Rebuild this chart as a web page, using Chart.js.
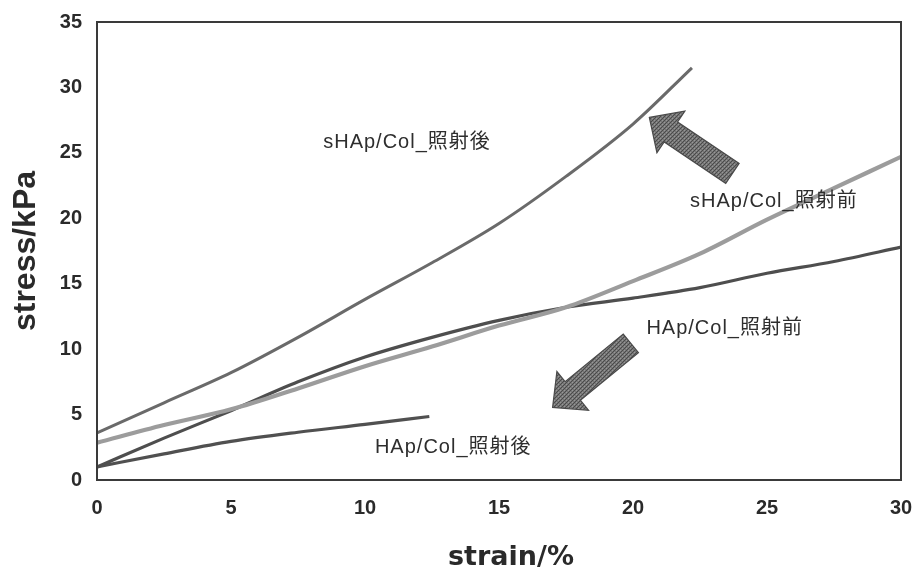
<!DOCTYPE html>
<html>
<head>
<meta charset="utf-8">
<script src="https://cdn.jsdelivr.net/npm/chart.js@4.4.1/dist/chart.umd.min.js"></script>
<style>
  html, body { margin: 0; padding: 0; background: #ffffff; }
  #wrap { width: 918px; height: 567px; position: relative; }
</style>
</head>
<body>
<div id="wrap"><canvas id="c" width="918" height="567"></canvas></div>
<script>
// Stress–strain curves (strain in %, stress in kPa)
const sHApAfterStrain  = [0, 2.5, 5, 7.5, 10, 12.5, 15, 17.5, 20, 22.2];
const sHApAfterStress  = [3.6, 5.9, 8.2, 10.9, 13.8, 16.6, 19.6, 23.2, 27.2, 31.5];

const sHApBeforeStrain = [0, 2.5, 5, 7.5, 10, 12.5, 15, 17.5, 20, 22.5, 25, 27.5, 30];
const sHApBeforeStress = [2.85, 4.2, 5.4, 7.0, 8.7, 10.2, 11.8, 13.2, 15.2, 17.3, 19.9, 22.3, 24.7];

const HApBeforeStrain  = [0, 2.5, 5, 7.5, 10, 12.5, 15, 17.5, 20, 22.5, 25, 27.5, 30];
const HApBeforeStress  = [1.0, 3.2, 5.3, 7.5, 9.4, 10.9, 12.2, 13.2, 13.9, 14.7, 15.8, 16.7, 17.8];

const HApAfterStrain   = [0, 2.5, 5, 7.5, 10, 12.4];
const HApAfterStress   = [1.0, 2.0, 2.95, 3.65, 4.25, 4.85];

// Axis ticks
const xTicks = [0, 5, 10, 15, 20, 25, 30];
const yTicks = [0, 5, 10, 15, 20, 25, 30, 35];
const xTitle = 'strain/%';
const yTitle = 'stress/kPa';

// Curve labels, anchored at their left edge / vertical middle (data units)
const labelTexts = ['sHAp/Col_照射後', 'sHAp/Col_照射前', 'HAp/Col_照射前', 'HAp/Col_照射後'];
const labelX     = [8.44, 22.13, 20.5, 10.37];
const labelY     = [25.8, 21.26, 11.6, 2.45];

// Block arrows: tip and tail (data units)
const arrowTipX  = [20.61, 17.0];
const arrowTipY  = [27.71, 5.55];
const arrowTailX = [23.71, 19.92];
const arrowTailY = [23.43, 10.44];

function pts(xs, ys) { return xs.map((x, i) => ({ x: x, y: ys[i] })); }

function hatchPattern(ctx) {
  const p = document.createElement('canvas');
  p.width = 4; p.height = 4;
  const g = p.getContext('2d');
  g.fillStyle = '#767676';
  g.fillRect(0, 0, 4, 4);
  g.fillStyle = '#4a4a4a';
  g.fillRect(0, 0, 1, 1); g.fillRect(2, 2, 1, 1);
  g.fillRect(1, 3, 1, 1); g.fillRect(3, 1, 1, 1);
  g.fillStyle = '#979797';
  g.fillRect(2, 0, 1, 1); g.fillRect(0, 2, 1, 1);
  return ctx.createPattern(p, 'repeat');
}

// keep the plot box fixed: no extra room for overhanging tick labels
function noScalePadding(s) {
  s.paddingTop = 0; s.paddingBottom = 0; s.paddingLeft = 0; s.paddingRight = 0;
}

const decorations = {
  id: 'decorations',
  afterDatasetsDraw(chart) {
    const { ctx, chartArea: a, scales: { x, y } } = chart;
    ctx.save();

    // plot frame
    ctx.strokeStyle = '#3a3a3a';
    ctx.lineWidth = 2;
    ctx.strokeRect(a.left, a.top, a.right - a.left, a.bottom - a.top);

    // block arrows
    const pat = hatchPattern(ctx);
    for (let i = 0; i < arrowTipX.length; i++) {
      const tx = x.getPixelForValue(arrowTipX[i]), ty = y.getPixelForValue(arrowTipY[i]);
      const bx = x.getPixelForValue(arrowTailX[i]), by = y.getPixelForValue(arrowTailY[i]);
      const len = Math.hypot(tx - bx, ty - by);
      const ux = (tx - bx) / len, uy = (ty - by) / len;
      const nx = -uy, ny = ux;
      const headLen = 26, headHalf = 25, shaftHalf = 12;
      const hx = tx - ux * headLen, hy = ty - uy * headLen;
      ctx.beginPath();
      ctx.moveTo(tx, ty);
      ctx.lineTo(hx + nx * headHalf, hy + ny * headHalf);
      ctx.lineTo(hx + nx * shaftHalf, hy + ny * shaftHalf);
      ctx.lineTo(bx + nx * shaftHalf, by + ny * shaftHalf);
      ctx.lineTo(bx - nx * shaftHalf, by - ny * shaftHalf);
      ctx.lineTo(hx - nx * shaftHalf, hy - ny * shaftHalf);
      ctx.lineTo(hx - nx * headHalf, hy - ny * headHalf);
      ctx.closePath();
      ctx.fillStyle = pat;
      ctx.fill();
      ctx.strokeStyle = '#4a4a4a';
      ctx.lineWidth = 1.2;
      ctx.stroke();
    }

    // curve labels
    ctx.font = '20px "Liberation Sans", Arial, "Noto Sans CJK JP", sans-serif';
    if ('letterSpacing' in ctx) ctx.letterSpacing = '1px';
    ctx.fillStyle = '#2e2e2e';
    ctx.textAlign = 'left';
    ctx.textBaseline = 'middle';
    for (let i = 0; i < labelTexts.length; i++) {
      ctx.fillText(labelTexts[i], x.getPixelForValue(labelX[i]), y.getPixelForValue(labelY[i]));
    }
    if ('letterSpacing' in ctx) ctx.letterSpacing = '0px';

    // x-axis title, set a little right of the plot centre
    ctx.font = 'bold 27px "DejaVu Sans", "Liberation Sans", sans-serif';
    ctx.fillStyle = '#2a2a2a';
    ctx.textAlign = 'center';
    ctx.textBaseline = 'alphabetic';
    ctx.fillText(xTitle, (a.left + a.right) / 2 + 12, chart.height - 2);
    ctx.restore();
  }
};

const lineBase = { showLine: true, pointRadius: 0, pointHoverRadius: 0, cubicInterpolationMode: 'monotone', fill: false };

new Chart(document.getElementById('c'), {
  type: 'scatter',
  data: {
    datasets: [
      Object.assign({ label: 'sHAp/Col_照射前 (edge)', data: pts(sHApBeforeStrain, sHApBeforeStress), borderColor: '#9c9c9c', borderWidth: 4.2 }, lineBase),
      Object.assign({ label: 'sHAp/Col_照射前', data: pts(sHApBeforeStrain, sHApBeforeStress), borderColor: '#ececec', borderWidth: 1.8 }, lineBase),
      Object.assign({ label: 'HAp/Col_照射前', data: pts(HApBeforeStrain, HApBeforeStress), borderColor: '#4e4e4e', borderWidth: 3.2 }, lineBase),
      Object.assign({ label: 'HAp/Col_照射後', data: pts(HApAfterStrain, HApAfterStress), borderColor: '#505050', borderWidth: 3.2 }, lineBase),
      Object.assign({ label: 'sHAp/Col_照射後', data: pts(sHApAfterStrain, sHApAfterStress), borderColor: '#6a6a6a', borderWidth: 3 }, lineBase)
    ]
  },
  options: {
    responsive: false,
    animation: false,
    events: [],
    layout: { padding: { top: 22, right: 17, left: 0, bottom: 0 } },
    plugins: { legend: { display: false }, tooltip: { enabled: false } },
    scales: {
      x: {
        type: 'linear',
        min: 0, max: 30,
        afterFit(s) { s.height = 87; noScalePadding(s); },
        afterBuildTicks(s) { s.ticks = xTicks.map(v => ({ value: v })); },
        grid: { display: false, drawTicks: false },
        border: { display: false },
        ticks: {
          padding: 16,
          color: '#2a2a2a',
          maxRotation: 0,
          font: { family: '"Liberation Sans", Arial, sans-serif', size: 20, weight: 'bold' }
        },
        title: { display: false }
      },
      y: {
        type: 'linear',
        min: 0, max: 35,
        afterFit(s) { s.width = 97; noScalePadding(s); },
        afterBuildTicks(s) { s.ticks = yTicks.map(v => ({ value: v })); },
        grid: { display: false, drawTicks: false },
        border: { display: false },
        ticks: {
          padding: 15,
          color: '#2a2a2a',
          font: { family: '"Liberation Sans", Arial, sans-serif', size: 20, weight: 'bold' }
        },
        title: {
          display: true,
          text: yTitle,
          color: '#2a2a2a',
          padding: { top: 7, bottom: 0 },
          font: { family: '"Liberation Sans", Arial, sans-serif', size: 32, weight: 'bold' }
        }
      }
    }
  },
  plugins: [decorations]
});
</script>
</body>
</html>
